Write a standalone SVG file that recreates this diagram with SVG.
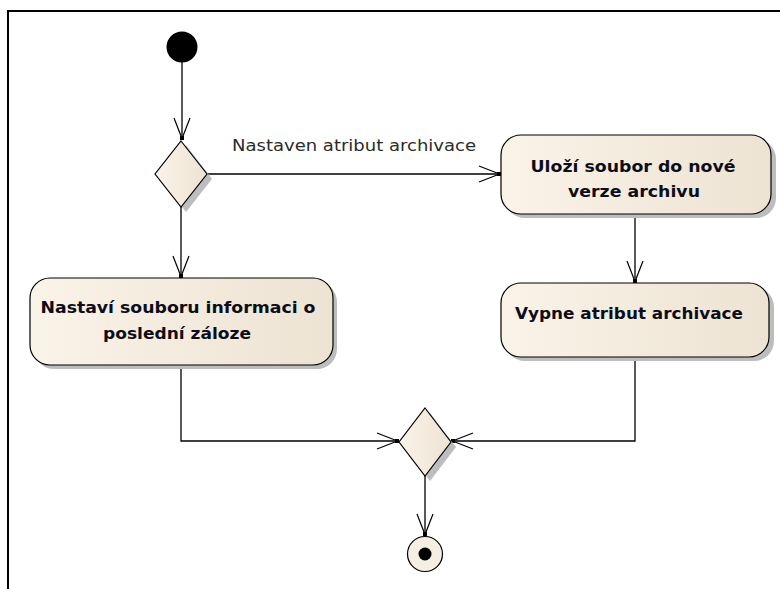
<svg xmlns="http://www.w3.org/2000/svg" width="780" height="589" viewBox="0 0 780 589">
  <style>
    .node { stroke: #000; stroke-width: 1.2; fill: url(#fillGrad); }
    .shadow { fill: #bdbdbd; stroke: none; }
    .conn { fill: none; stroke: #000; stroke-width: 1.3; }
    .label { font-family: "DejaVu Sans", "Liberation Sans", sans-serif; font-size: 16px; fill: #2b2b2b; }
    .title { font-family: "DejaVu Sans", "Liberation Sans", sans-serif; font-size: 16.5px; font-weight: bold; fill: #0d0d1a; text-anchor: middle; }
  </style>
  <defs>
    <linearGradient id="fillGrad" x1="0" y1="0" x2="1" y2="0">
      <stop offset="0" stop-color="#faf3e8"/>
      <stop offset="1" stop-color="#ede3d3"/>
    </linearGradient>
    <marker id="arrow" viewBox="-24 -10 28 20" refX="0" refY="0" markerWidth="28" markerHeight="20" markerUnits="userSpaceOnUse" orient="auto">
      <path d="M-22,-8 L-4,-1 M-22,8 L-4,1" stroke="#000" stroke-width="1.2" fill="none"/>
      <rect x="-4" y="-2" width="4" height="4" fill="#000"/>
    </marker>
  </defs>

  <!-- frame -->
  <path d="M8,589 V11 H780" fill="none" stroke="#000" stroke-width="2"/>

  <!-- connectors -->
  <g id="connectors">
    <path class="conn" d="M182,62 V140" marker-end="url(#arrow)"/>
    <path class="conn" d="M207,174 H501" marker-end="url(#arrow)"/>
    <text class="label" x="232" y="151" textLength="244" lengthAdjust="spacingAndGlyphs">Nastaven atribut archivace</text>
    <path class="conn" d="M181,207 V278" marker-end="url(#arrow)"/>
    <path class="conn" d="M635,215 V283" marker-end="url(#arrow)"/>
    <path class="conn" d="M181,365 V441 H399" marker-end="url(#arrow)"/>
    <path class="conn" d="M635,357 V441 H451" marker-end="url(#arrow)"/>
    <path class="conn" d="M425,476 V536" marker-end="url(#arrow)"/>
  </g>

  <!-- start -->
  <g id="start">
    <circle cx="182" cy="47" r="15.5" fill="#000"/>
  </g>

  <!-- decision -->
  <g id="decision">
    <polygon class="shadow" points="186,145 212,179 186,212 160,179"/>
    <polygon class="node" points="181,141 207,174 181,207 155,174"/>
  </g>

  <!-- action: archive -->
  <g id="saveArchive">
    <rect class="shadow" x="505" y="139" width="271" height="79" rx="20"/>
    <rect class="node" x="501" y="135" width="270" height="79" rx="20"/>
    <text class="title" x="633" y="172" textLength="205" lengthAdjust="spacingAndGlyphs">Uloží soubor do nové</text>
    <text class="title" x="634" y="197" textLength="132" lengthAdjust="spacingAndGlyphs">verze archivu</text>
  </g>

  <!-- action: clear attribute -->
  <g id="clearAttribute">
    <rect class="shadow" x="505" y="287" width="269" height="74" rx="20"/>
    <rect class="node" x="501" y="283" width="268" height="74" rx="20"/>
    <text class="title" x="629" y="319" textLength="228" lengthAdjust="spacingAndGlyphs">Vypne atribut archivace</text>
  </g>

  <!-- action: backup info -->
  <g id="setBackupInfo">
    <rect class="shadow" x="34" y="282" width="303" height="87" rx="20"/>
    <rect class="node" x="30" y="278" width="303" height="87" rx="20"/>
    <text class="title" x="178" y="313" textLength="275" lengthAdjust="spacingAndGlyphs">Nastaví souboru informaci o</text>
    <text class="title" x="177" y="339" textLength="148" lengthAdjust="spacingAndGlyphs">poslední záloze</text>
  </g>

  <!-- merge -->
  <g id="merge">
    <polygon class="shadow" points="430,413 456,447 430,481 404,447"/>
    <polygon class="node" points="425,408 451,442 425,476 399,442"/>
  </g>

  <!-- end -->
  <g id="end">
    <circle cx="425" cy="554" r="17.5" fill="#f5eee2" stroke="#000" stroke-width="1.2"/>
    <circle cx="425" cy="554" r="6.5" fill="#000"/>
  </g>
</svg>
